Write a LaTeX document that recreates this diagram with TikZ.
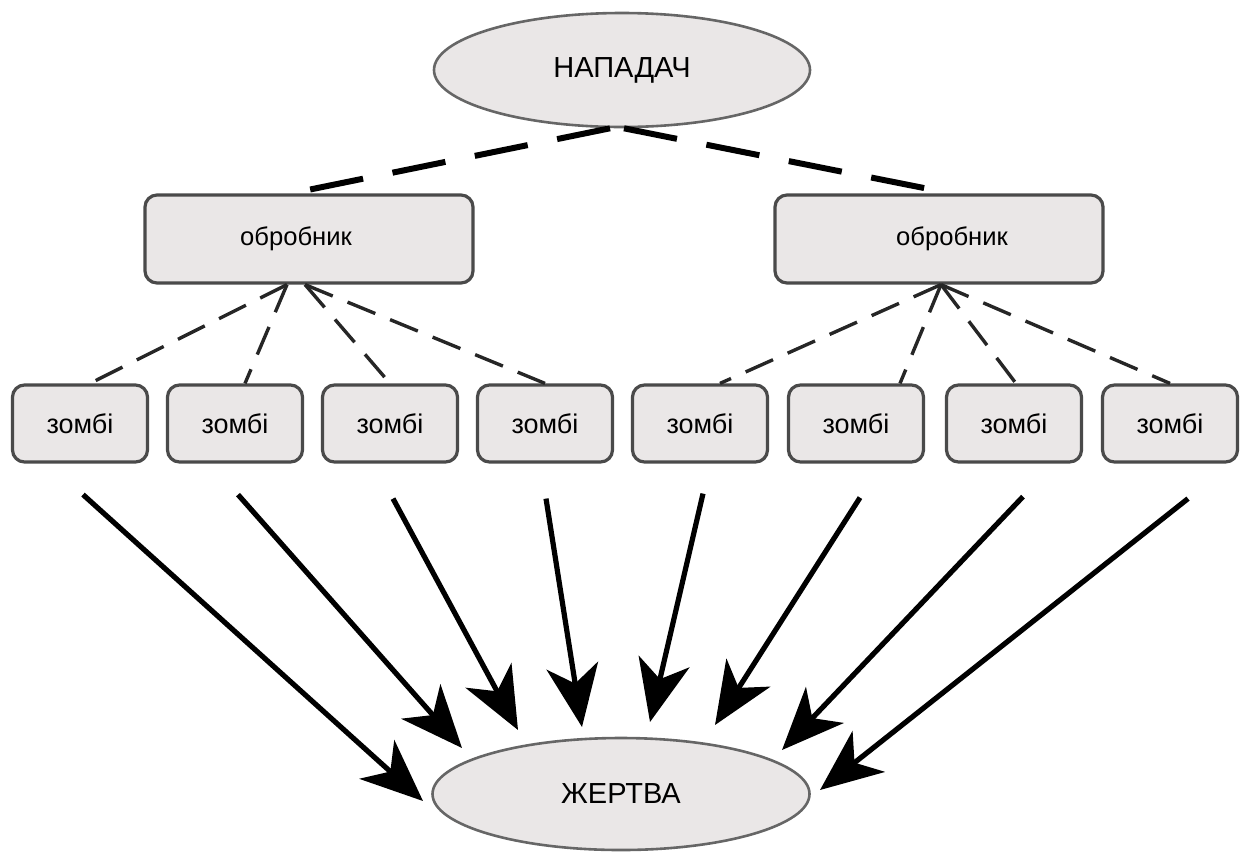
\documentclass[tikz,border=0pt]{standalone}
\usepackage{fontspec}
\setmainfont{Liberation Sans}
\usetikzlibrary{arrows.meta,shapes.geometric}
\definecolor{boxfill}{HTML}{EAE7E7}
\definecolor{boxline}{HTML}{4A4A4A}
\definecolor{elline}{HTML}{666666}
\begin{document}
\begin{tikzpicture}[x=0.5pt,y=-0.5pt,
  ellnode/.style={ellipse, draw=elline, line width=1.3pt, fill=boxfill, inner sep=0pt, font=\fontsize{14.5}{17}\selectfont},
  handbox/.style={rectangle, rounded corners=6pt, draw=boxline, line width=1.6pt, fill=boxfill, minimum width=164pt, minimum height=44pt, inner sep=0pt, font=\fontsize{12.8}{15}\selectfont},
  zbox/.style={rectangle, rounded corners=6pt, draw=boxline, line width=1.6pt, fill=boxfill, minimum width=67.5pt, minimum height=38.5pt, inner sep=0pt, font=\fontsize{13.5}{16}\selectfont},
  topdash/.style={line width=3pt, dash pattern=on 27pt off 15pt, black},
  lowdash/.style={line width=1.7pt, dash pattern=on 15pt off 8pt, black!85},
  arr/.style={line width=2.6pt, black, -{Stealth[length=31pt,width=26pt,inset=9pt]}}]
\useasboundingbox (0,0) rectangle (1240,852);
% main nodes
\node[ellnode, minimum width=188pt, minimum height=57pt] (atk) at (622,70) {НАПАДАЧ};
\node[handbox] (hL) at (309,239) {обробник\kern13pt};
\node[handbox] (hR) at (939,239) {\kern13pt обробник};
\node[zbox] (z1) at (80,423.5) {зомбі};
\node[zbox] (z2) at (235,423.5) {зомбі};
\node[zbox] (z3) at (390,423.5) {зомбі};
\node[zbox] (z4) at (545,423.5) {зомбі};
\node[zbox] (z5) at (700,423.5) {зомбі};
\node[zbox] (z6) at (856,423.5) {зомбі};
\node[zbox] (z7) at (1014,423.5) {зомбі};
\node[zbox] (z8) at (1170,423.5) {зомбі};
\node[ellnode, minimum width=188.5pt, minimum height=56pt] (vic) at (621,794) {ЖЕРТВА};
% attacker to handlers
\draw[topdash] ([xshift=-6]atk.south) -- ([xshift=-9]hL.north);
\draw[topdash] ([xshift=1]atk.south) -- ([xshift=6]hR.north);
% handlers to zombies
\draw[lowdash] ([xshift=-11]hL.south) -- ([xshift=5]z1.north);
\draw[lowdash] ([xshift=-11]hL.south) -- ([xshift=5]z2.north);
\draw[lowdash] ([xshift=-2]hL.south) -- ([xshift=0]z3.north);
\draw[lowdash] ([xshift=-2]hL.south) -- ([xshift=0]z4.north);
\draw[lowdash] ([xshift=1]hR.south) -- ([xshift=10]z5.north);
\draw[lowdash] ([xshift=1]hR.south) -- ([xshift=22]z6.north);
\draw[lowdash] ([xshift=1]hR.south) -- ([xshift=1]z7.north);
\draw[lowdash] ([xshift=1]hR.south) -- ([xshift=0]z8.north);
% arrow tails
\coordinate (a1) at ([shift={(3,31)}]z1.south);
\coordinate (a2) at ([shift={(3,31)}]z2.south);
\coordinate (a3) at ([shift={(3,35)}]z3.south);
\coordinate (a4) at ([shift={(1,35)}]z4.south);
\coordinate (a5) at ([shift={(3,30)}]z5.south);
\coordinate (a6) at ([shift={(4,34)}]z6.south);
\coordinate (a7) at ([shift={(9,33)}]z7.south);
\coordinate (a8) at ([shift={(18,35)}]z8.south);
% arrow tips
\coordinate (b1) at (423,801);
\coordinate (b2) at (462,748);
\coordinate (b3) at (518,730);
\coordinate (b4) at (582,727);
\coordinate (b5) at (650,722);
\coordinate (b6) at (715,725);
\coordinate (b7) at (782,750);
\coordinate (b8) at (820,790);
\foreach \i in {1,...,8} {\draw[arr] (a\i) -- (b\i);}
\end{tikzpicture}
\end{document}
